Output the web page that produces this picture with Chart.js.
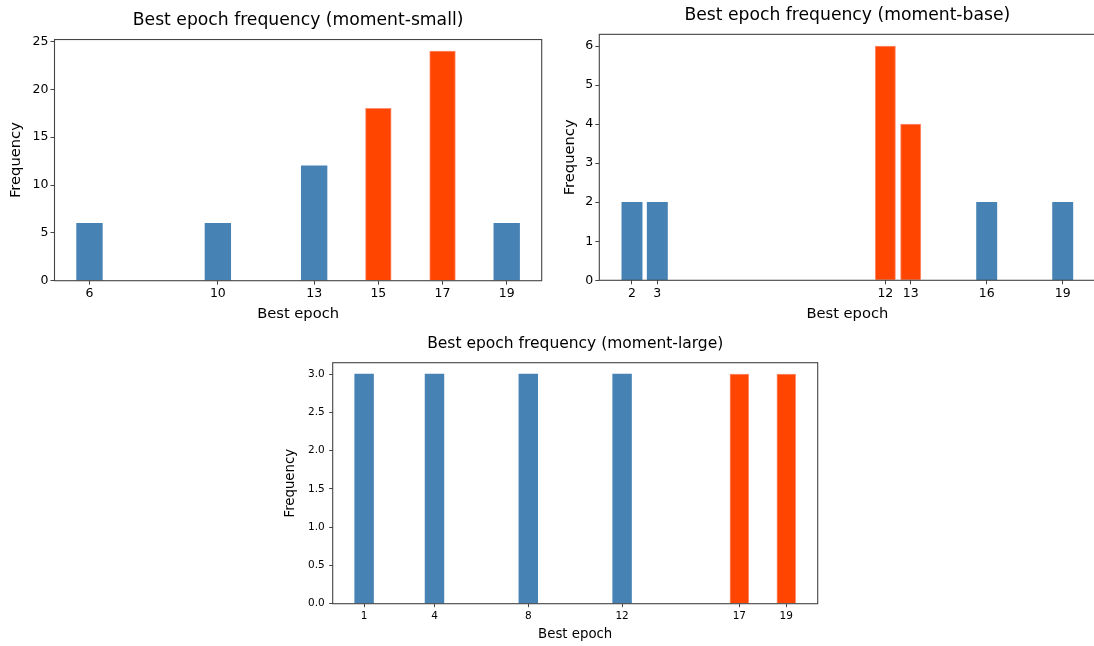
<!DOCTYPE html>
<html>
<head>
<meta charset="utf-8">
<script src="https://cdn.jsdelivr.net/npm/chart.js@4.4.1/dist/chart.umd.min.js"></script>
<style>
  html, body { margin: 0; padding: 0; background: #fff; overflow: hidden; width: 1094px; height: 646px; }
  #wrap { position: relative; width: 1094px; height: 646px; overflow: hidden; }
  canvas { position: absolute; }
</style>
</head>
<body>
<div id="wrap">
  <canvas id="c1" width="560" height="330" style="left:0px;top:0px"></canvas>
  <canvas id="c2" width="540" height="330" style="left:560px;top:0px"></canvas>
  <canvas id="c3" width="570" height="316" style="left:270px;top:330px"></canvas>
</div>
<script>
// ---- data ----
const smallEpochs = [6, 10, 13, 15, 17, 19];
const smallFreq = [6, 6, 12, 18, 24, 6];
const smallHighlight = [15, 17];
const smallYTicks = [0, 5, 10, 15, 20, 25];

const baseEpochs = [2, 3, 12, 13, 16, 19];
const baseFreq = [2, 2, 6, 4, 2, 2];
const baseHighlight = [12, 13];
const baseYTicks = [0, 1, 2, 3, 4, 5, 6];

const largeEpochs = [1, 4, 8, 12, 17, 19];
const largeFreq = [3, 3, 3, 3, 3, 3];
const largeHighlight = [17, 19];
const largeYTicks = [0, 0.5, 1.0, 1.5, 2.0, 2.5, 3.0];

const BLUE = '#4682b4';
const RED = '#ff4500';
const RED_EDGE = '#ff8f6e';
const AXIS = '#444444';
const FONT = "'DejaVu Sans', sans-serif";

const framePlugin = {
  id: 'frame',
  afterDatasetsDraw(chart) {
    const a = chart.chartArea, ctx = chart.ctx;
    ctx.save();
    ctx.strokeStyle = AXIS;
    ctx.lineWidth = 1.1;
    ctx.strokeRect(a.left, a.top, a.right - a.left, a.bottom - a.top);
    ctx.restore();
  }
};

function makeChart(id, cfg) {
  const epochs = cfg.epochs, freq = cfg.freq, hl = cfg.highlight;
  const xmin = Math.min(...epochs) - 0.4, xmax = Math.max(...epochs) + 0.4;
  const m = (xmax - xmin) * 0.05;
  const ymax = Math.max(...freq) * 1.05;
  new Chart(document.getElementById(id), {
    type: 'bar',
    data: {
      datasets: [{
        data: epochs.map((e, i) => ({ x: e, y: freq[i] })),
        backgroundColor: epochs.map(e => hl.includes(e) ? RED : BLUE),
        borderColor: epochs.map(e => hl.includes(e) ? RED_EDGE : BLUE),
        borderWidth: epochs.map(e => hl.includes(e) ? 1 : 0),
        borderSkipped: 'bottom',
        barThickness: cfg.barPx
      }]
    },
    options: {
      responsive: false,
      animation: false,
      devicePixelRatio: 1,
      layout: { padding: { left: 0, right: cfg.padRight, top: 0, bottom: 0 } },
      plugins: {
        legend: { display: false },
        tooltip: { enabled: false },
        title: {
          display: true,
          text: cfg.title,
          fullSize: false,
          color: '#000',
          font: { family: FONT, size: cfg.titleSize, weight: 'normal', lineHeight: 1.2 },
          padding: { top: cfg.titlePadTop, bottom: cfg.titlePadBottom }
        }
      },
      scales: {
        x: {
          type: 'linear',
          min: xmin - m,
          max: xmax + m,
          offset: false,
          afterBuildTicks: s => { s.ticks = epochs.map(v => ({ value: v })); },
          afterFit: s => { s.height = cfg.xHeight; },
          ticks: {
            autoSkip: false,
            maxRotation: 0,
            color: '#000',
            padding: cfg.xTickPad,
            font: { family: FONT, size: cfg.tickSize },
            callback: v => String(v)
          },
          grid: { display: true, offset: false, drawOnChartArea: false, drawTicks: true, tickLength: cfg.tickLen, color: AXIS, lineWidth: 1 },
          border: { display: false },
          title: {
            display: true, text: 'Best epoch', color: '#000',
            font: { family: FONT, size: cfg.labelSize, lineHeight: 1.2 },
            padding: { top: 0, bottom: cfg.xTitlePad }
          }
        },
        y: {
          type: 'linear',
          min: 0,
          max: ymax,
          afterBuildTicks: s => { s.ticks = cfg.yTicks.map(v => ({ value: v })); },
          afterFit: s => { s.width = cfg.yWidth; },
          ticks: {
            color: '#000',
            padding: cfg.yTickPad,
            font: { family: FONT, size: cfg.tickSize },
            callback: v => cfg.yFmt(v)
          },
          grid: { display: true, offset: false, drawOnChartArea: false, drawTicks: true, tickLength: cfg.tickLen, color: AXIS, lineWidth: 1 },
          border: { display: false },
          title: {
            display: true, text: 'Frequency', color: '#000',
            font: { family: FONT, size: cfg.labelSize, lineHeight: 1.2 },
            padding: { top: cfg.yTitlePad, bottom: 0 }
          }
        }
      }
    },
    plugins: [framePlugin]
  });
}

makeChart('c1', {
  epochs: smallEpochs, freq: smallFreq, highlight: smallHighlight, yTicks: smallYTicks,
  yFmt: v => String(v),
  title: 'Best epoch frequency (moment-small)',
  titleSize: 17.2, titlePadTop: 9.8, titlePadBottom: 9.1,
  tickSize: 12.5, labelSize: 14.7, tickLen: 4, xTickPad: 2, yTickPad: 2,
  padRight: 18.3, yWidth: 54.5, xHeight: 49.3, xTitlePad: 7.2, yTitlePad: 7.2,
  barPx: 25.7
});

makeChart('c2', {
  epochs: baseEpochs, freq: baseFreq, highlight: baseHighlight, yTicks: baseYTicks,
  yFmt: v => String(v),
  title: 'Best epoch frequency (moment-base)',
  titleSize: 17.2, titlePadTop: 5.7, titlePadBottom: 8.0,
  tickSize: 12.5, labelSize: 14.7, tickLen: 4, xTickPad: 2, yTickPad: 2,
  padRight: 4.6, yWidth: 39.3, xHeight: 49.7, xTitlePad: 7.2, yTitlePad: 1.7,
  barPx: 20.3
});

makeChart('c3', {
  epochs: largeEpochs, freq: largeFreq, highlight: largeHighlight, yTicks: largeYTicks,
  yFmt: v => v.toFixed(1),
  title: 'Best epoch frequency (moment-large)',
  titleSize: 15.5, titlePadTop: 4.7, titlePadBottom: 9.4,
  tickSize: 10.5, labelSize: 13.3, tickLen: 3.5, xTickPad: 2.5, yTickPad: 4.5,
  padRight: 22.3, yWidth: 62.7, xHeight: 42.3, xTitlePad: 3, yTitlePad: 12.7,
  barPx: 18.8
});
</script>
</body>
</html>
